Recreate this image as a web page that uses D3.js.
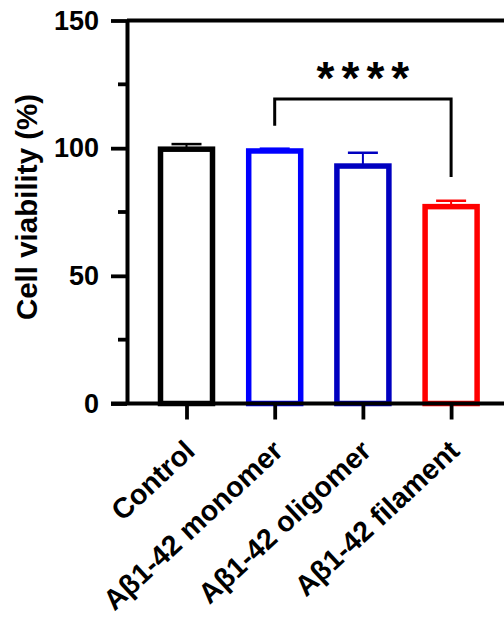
<!DOCTYPE html>
<meta charset="utf-8">
<head>
    <script src="https://cdnjs.cloudflare.com/ajax/libs/d3/7.8.5/d3.min.js"></script>
    <style>
    body { margin: 0; background: #fff; }
    text { font-family: "Liberation Sans", Arial, sans-serif; font-weight: bold; fill: #000; }
    </style>
</head>
<body>
    <script>
    // data
    var groups = ["Control", "A\u03b21-42 monomer", "A\u03b21-42 oligomer", "A\u03b21-42 filament"];
    var means  = [99.6, 98.9, 93.0, 77.1];
    var sds    = [2.0, 0.9, 5.2, 2.3];
    var colors = ["#000000", "#0000ff", "#0000c0", "#ff0000"];
    var majorTicks = [0, 50, 100, 150];
    var minorTicks = [25, 75, 125];
    // significance bracket: from group 1 to group 3
    var sigPair = [1, 3];
    var sigLevels = [119.3, 108.8, 88.7]; // top, left leg end, right leg end
    var sigLabel = "****";

    var W = 504, H = 617;
    var svg = d3.select("body").append("svg")
        .attr("width", W)
        .attr("height", H);

    // scales
    var x = d3.scalePoint()
        .domain(groups)
        .range([142.4, 495.2])
        .padding(0.5);
    var y = d3.scaleLinear()
        .domain([0, 150])
        .range([403.5, 20.5]);
    var axisX = 127;
    var barW = 52;

    // top frame line
    svg.append("line")
        .attr("x1", axisX).attr("x2", W)
        .attr("y1", y(150)).attr("y2", y(150))
        .attr("stroke", "#000").attr("stroke-width", 3.8);

    // bars
    svg.selectAll(".bar")
        .data(groups)
        .enter().append("rect")
        .attr("class", "bar")
        .attr("x", function(d) { return x(d) - barW / 2; })
        .attr("y", function(d, i) { return y(means[i]); })
        .attr("width", barW)
        .attr("height", function(d, i) { return y(0) - y(means[i]); })
        .attr("fill", "none")
        .attr("stroke", function(d, i) { return colors[i]; })
        .attr("stroke-width", 5.5);

    // error bars (upper only)
    var err = svg.selectAll(".err")
        .data(groups)
        .enter().append("g")
        .attr("class", "err");
    err.append("line")
        .attr("x1", function(d) { return x(d); })
        .attr("x2", function(d) { return x(d); })
        .attr("y1", function(d, i) { return y(means[i]); })
        .attr("y2", function(d, i) { return y(means[i] + sds[i]); })
        .attr("stroke", function(d, i) { return colors[i]; })
        .attr("stroke-width", 2);
    err.append("line")
        .attr("x1", function(d) { return x(d) - 15; })
        .attr("x2", function(d) { return x(d) + 15; })
        .attr("y1", function(d, i) { return y(means[i] + sds[i]); })
        .attr("y2", function(d, i) { return y(means[i] + sds[i]); })
        .attr("stroke", function(d, i) { return colors[i]; })
        .attr("stroke-width", 2.5);

    // y axis
    var yAxis = svg.append("g")
        .attr("transform", "translate(" + axisX + ",0)")
        .call(d3.axisLeft(y).tickValues(majorTicks).tickSize(16).tickSizeOuter(0).tickPadding(12));
    yAxis.select(".domain").attr("stroke-width", 4);
    yAxis.selectAll(".tick line").attr("stroke-width", 3.8);
    yAxis.selectAll(".tick text")
        .style("font-size", "27px")
        .style("font-weight", "bold")
        .style("font-family", "'Liberation Sans', Arial, sans-serif");
    yAxis.selectAll(".minor")
        .data(minorTicks)
        .enter().append("line")
        .attr("class", "minor")
        .attr("x1", 0).attr("x2", -9)
        .attr("y1", function(d) { return y(d); })
        .attr("y2", function(d) { return y(d); })
        .attr("stroke", "#000").attr("stroke-width", 3.8);

    // x axis
    var xAxis = svg.append("g")
        .attr("transform", "translate(0," + y(0) + ")")
        .call(d3.axisBottom(x).tickSize(16).tickSizeOuter(0).tickFormat(""));
    xAxis.select(".domain").attr("d", "M" + (axisX - 16) + ",0H" + W).attr("stroke-width", 4);
    xAxis.selectAll(".tick line").attr("stroke-width", 3.8);

    // x labels, rotated
    svg.selectAll(".xlab")
        .data(groups)
        .enter().append("text")
        .attr("class", "xlab")
        .attr("transform", function(d) { return "translate(" + (x(d) + 10) + ",453) rotate(-43)"; })
        .style("text-anchor", "end")
        .style("font-size", "28.5px")
        .text(function(d) { return d; });

    // y axis title
    svg.append("text")
        .attr("transform", "translate(37,207) rotate(-90)")
        .style("text-anchor", "middle")
        .style("font-size", "29.5px")
        .text("Cell viability (%)");

    // significance bracket
    var bx1 = x(groups[sigPair[0]]), bx2 = x(groups[sigPair[1]]);
    svg.append("path")
        .attr("d", "M" + bx1 + "," + y(sigLevels[1]) +
                   "V" + y(sigLevels[0]) +
                   "H" + bx2 +
                   "V" + y(sigLevels[2]))
        .attr("fill", "none")
        .attr("stroke", "#000")
        .attr("stroke-width", 3);
    svg.append("text")
        .attr("x", (bx1 + bx2) / 2 + 3.5)
        .attr("y", 94)
        .style("text-anchor", "middle")
        .style("font-size", "46px")
        .style("letter-spacing", "7px")
        .text(sigLabel);
    </script>
</body>
</html>
